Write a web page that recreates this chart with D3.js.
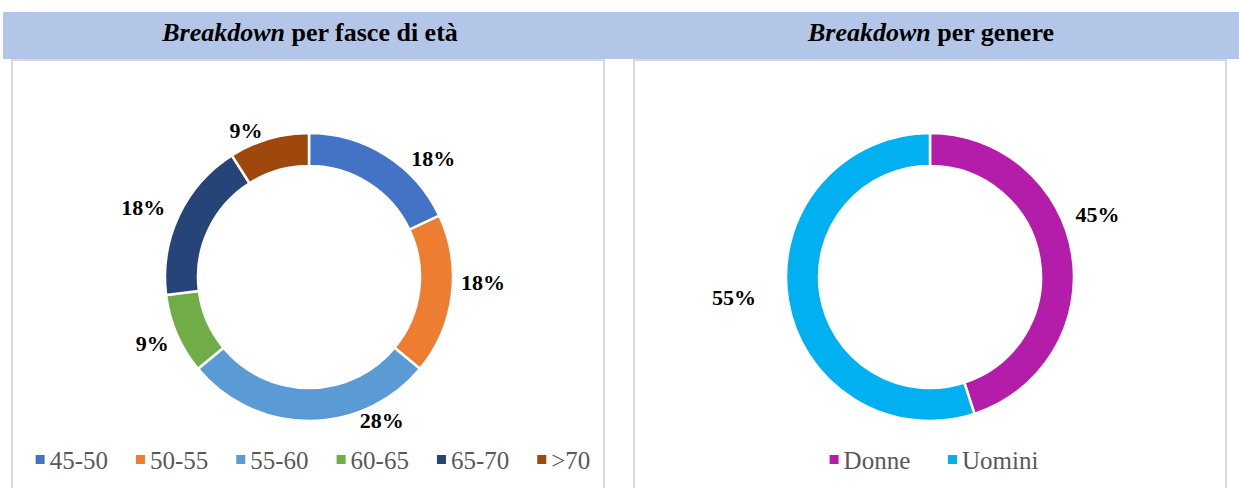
<!DOCTYPE html>
<html><head><meta charset="utf-8">
<script src="https://cdn.jsdelivr.net/npm/d3@7"></script>
<style>
body{margin:0;background:#fff}svg{display:block}
</style>
</head><body>
<svg id="c" width="1239" height="488" font-family="Liberation Serif"></svg>
<script>
// ---- data ----
const ageCategories = ["45-50","50-55","55-60","60-65","65-70",">70"];
const ageValues = [18,18,28,9,18,9];
const ageColors = ["#4472c4","#ed7d31","#5b9bd5","#70ad47","#264478","#9e480e"];
const genderCategories = ["Donne","Uomini"];
const genderValues = [45,55];
const genderColors = ["#b31da9","#00b0f0"];
const titles = [["Breakdown"," per fasce di età"],["Breakdown"," per genere"]];
// label placement (polar: degrees clockwise from top, distance from centre)
const ageLabelPolar = [[46.2,172],[91.6,174],[153.1,161],[247.2,170],[292.9,180],[336.8,160]];
const genderLabelPolar = [[69.4,179],[264.2,197]];

const FF = "Liberation Serif";
const svg = d3.select("#c");
const W = 1239, H = 488;

svg.append("rect").attr("x",3).attr("y",12).attr("width",W-3).attr("height",47).attr("fill","#b4c6e7");

const panels = [{x:12,w:592},{x:634,w:592}];
panels.forEach(p=>{
  svg.append("rect").attr("x",p.x).attr("y",60).attr("width",p.w).attr("height",H)
    .attr("fill","none").attr("stroke","#d9d9d9").attr("stroke-width",2);
});

const titleX = [310, 931];
titles.forEach((t,i)=>{
  const tx = svg.append("text").attr("font-family",FF).attr("x",titleX[i]).attr("y",41).attr("text-anchor","middle")
    .attr("font-size",26).attr("font-weight","bold").attr("fill","#000");
  tx.append("tspan").attr("font-family",FF).attr("font-style","italic").text(t[0]);
  tx.append("tspan").attr("font-family",FF).text(t[1]);
});

function donut(cx, cy, cats, vals, cols, polar, legendY){
  const g = svg.append("g").attr("transform",`translate(${cx},${cy})`);
  const pie = d3.pie().sort(null).value(d=>d)(vals);
  const arc = d3.arc().innerRadius(111).outerRadius(144);
  g.selectAll("path").data(pie).join("path")
    .attr("d",arc).attr("fill",(d,i)=>cols[i]).attr("stroke","#fff").attr("stroke-width",2.5);
  g.selectAll("text.lbl").data(pie).join("text").attr("class","lbl").attr("font-family",FF)
    .attr("x",(d,i)=>Math.sin(polar[i][0]*Math.PI/180)*polar[i][1])
    .attr("y",(d,i)=>-Math.cos(polar[i][0]*Math.PI/180)*polar[i][1])
    .attr("dy","0.35em").attr("text-anchor","middle")
    .attr("font-size",22).attr("font-weight","bold").attr("fill","#000")
    .text(d=>d.data+"%");
  // legend: equal-width entries
  const lg = svg.append("g");
  const items = cats.map((c,i)=>{
    const it = lg.append("g");
    it.append("rect").attr("x",0).attr("y",-5).attr("width",9).attr("height",9).attr("fill",cols[i]);
    const t = it.append("text").attr("font-family",FF).attr("x",14).attr("y",0).attr("dy","0.35em")
      .attr("font-size",25).attr("fill","#595959").text(c);
    return {it, w:t.node().getComputedTextLength()};
  });
  const maxW = d3.max(items, d=>d.w);
  const pitch = 14 + maxW + 28;
  items.forEach((d,i)=>d.it.attr("transform",`translate(${i*pitch},0)`));
  const tw = (cats.length-1)*pitch + 14 + items[items.length-1].w;
  lg.attr("transform",`translate(${cx - tw/2 + 4},${legendY})`);
}

donut(309, 277, ageCategories, ageValues, ageColors, ageLabelPolar, 460);
donut(930, 277, genderCategories, genderValues, genderColors, genderLabelPolar, 460);
</script>
</body></html>
